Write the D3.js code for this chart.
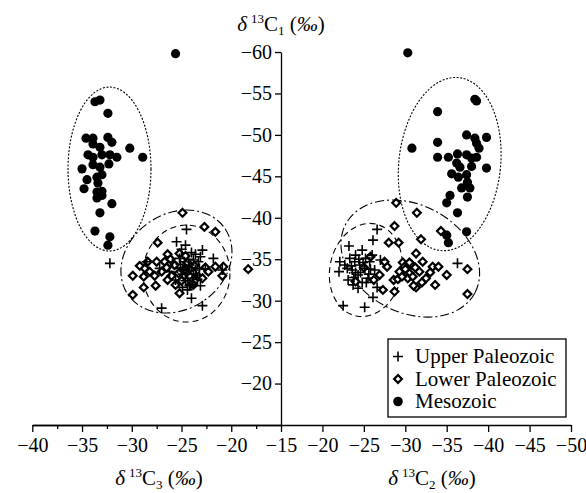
<!DOCTYPE html>
<html>
<head>
<meta charset="utf-8">
<script src="https://cdn.jsdelivr.net/npm/d3@7"></script>
<style>
  body { margin: 0; background: #fff; }
</style>
</head>
<body>
<div id="chart"></div>
<script>
// left half: δ13C3 (x) vs δ13C1 (y)
const upperLeft = [[-32.2,-34.5],[-24.5,-38.6],[-25.5,-37.1],[-24.6,-36.7],[-22.9,-36.1],[-23.1,-35.3],[-21.8,-35.1],
  [-28.5,-34.7],[-23.1,-31.8],[-24.0,-30.3],[-22.9,-29.4],[-27.0,-29.1],[-20.9,-33.7],[-25.2,-35.1],[-24.7,-34.7],
  [-24.2,-34.3],[-25.4,-33.9],[-23.6,-33.7],[-24.9,-33.2],[-24.4,-32.7],[-23.9,-32.2],[-25.6,-32.5],[-26.2,-33.5],
  [-27.2,-33.9],[-23.3,-34.7],[-24.4,-31.3],[-23.5,-33.0],[-22.6,-33.8],[-24.9,-31.6],[-24.0,-35.8],[-25.0,-36.2],
  [-24.3,-33.6],[-24.8,-34.0],[-23.8,-34.9],[-25.9,-34.6],[-24.1,-32.0],[-24.0,-34.0],[-23.8,-33.2],[-24.6,-32.4],
  [-23.4,-32.6],[-25.1,-34.4],[-24.3,-35.0],[-23.6,-35.6],[-24.9,-33.8],[-24.2,-31.8],[-23.2,-33.9]]
const lowerLeft = [[-24.9,-40.6],[-22.7,-38.9],[-21.6,-38.3],[-27.4,-37.0],[-26.4,-35.6],[-25.2,-35.7],[-28.4,-34.7],
  [-27.5,-34.7],[-26.7,-34.7],[-21.6,-34.1],[-20.8,-34.1],[-28.7,-33.9],[-29.9,-33.0],[-28.8,-32.9],[-20.9,-33.0],
  [-28.8,-31.6],[-27.6,-31.8],[-29.9,-30.7],[-23.8,-31.9],[-25.2,-30.9],[-26.4,-32.5],[-22.6,-34.0],[-23.3,-32.9],
  [-18.3,-33.8],[-25.7,-34.3],[-27.0,-33.5],[-26.0,-33.0],[-28.2,-33.5],[-24.7,-33.7],[-22.3,-33.5],[-25.6,-31.9],
  [-27.7,-33.0],[-29.2,-34.2],[-24.2,-33.0],[-23.7,-34.2],[-25.0,-32.4],[-24.4,-34.6],[-25.3,-33.3],[-23.9,-32.0],
  [-26.5,-34.0],[-22.9,-32.7],[-24.6,-35.4],[-26.1,-35.0]]
const mesoLeft = [[-33.7,-54.0],[-33.2,-54.2],[-32.4,-52.6],[-34.6,-49.6],[-33.9,-49.6],[-32.4,-49.7],[-32.0,-49.1],
  [-33.9,-48.9],[-33.2,-48.5],[-30.2,-48.4],[-28.9,-47.3],[-34.4,-47.6],[-33.9,-47.3],[-33.0,-47.6],[-32.2,-47.6],
  [-31.5,-47.3],[-33.9,-46.4],[-32.3,-46.5],[-35.0,-45.9],[-33.2,-46.1],[-33.5,-44.9],[-33.0,-45.2],[-34.5,-44.6],
  [-33.4,-44.2],[-34.8,-43.5],[-33.5,-43.1],[-33.0,-43.2],[-33.5,-42.4],[-33.0,-42.7],[-32.0,-41.7],[-33.2,-40.6],
  [-33.7,-38.4],[-32.2,-37.7],[-32.4,-36.7],[-25.6,-59.8]]

// right half: δ13C2 (x) vs δ13C1 (y)
const upperRight = [[-26.6,-38.6],[-26.1,-37.3],[-23.2,-36.6],[-24.8,-36.1],[-22.1,-34.7],[-22.0,-33.5],[-26.0,-35.5],
  [-27.0,-34.9],[-26.6,-31.6],[-26.1,-30.4],[-24.3,-31.5],[-22.5,-29.4],[-25.1,-29.2],[-36.3,-34.5],[-23.3,-35.1],
  [-23.9,-34.7],[-24.5,-34.3],[-25.1,-33.9],[-23.6,-33.7],[-24.3,-33.1],[-25.5,-32.7],[-23.1,-32.5],[-24.8,-32.2],
  [-25.7,-34.7],[-26.3,-33.7],[-22.7,-34.3],[-24.0,-35.5],[-25.2,-35.1],[-23.7,-31.9],[-24.6,-33.4],[-25.6,-33.2],
  [-24.0,-33.4],[-23.5,-34.2],[-24.9,-34.6],[-25.3,-32.2],[-23.8,-32.8],[-24.4,-35.0],[-25.8,-33.8],[-23.0,-33.9]]
const lowerRight = [[-28.9,-41.8],[-31.4,-40.6],[-28.7,-39.0],[-34.3,-38.4],[-31.9,-37.4],[-28.0,-37.0],[-29.2,-37.0],
  [-31.3,-35.7],[-29.7,-34.6],[-32.1,-34.7],[-33.3,-34.1],[-34.0,-34.1],[-35.0,-33.1],[-37.5,-33.8],[-37.5,-30.8],
  [-31.3,-31.6],[-33.6,-31.9],[-28.7,-31.1],[-28.6,-32.5],[-29.1,-32.6],[-30.5,-33.3],[-27.8,-34.1],[-29.9,-34.1],
  [-30.8,-34.3],[-30.3,-32.7],[-31.7,-33.5],[-32.5,-32.7],[-29.3,-33.5],[-26.9,-33.1],[-27.5,-34.7],[-27.3,-31.3],
  [-25.0,-34.0],[-26.2,-32.5],[-24.0,-32.3],[-25.8,-35.3],[-30.0,-33.8],[-30.9,-32.9],[-29.6,-32.9],[-31.2,-34.0],
  [-30.5,-34.6],[-32.0,-32.2],[-33.0,-33.4],[-31.0,-31.8]]
const mesoRight = [[-38.4,-54.3],[-38.6,-54.1],[-33.9,-52.8],[-37.4,-50.0],[-38.4,-49.6],[-39.8,-49.7],[-38.6,-49.0],
  [-38.9,-48.4],[-30.8,-48.4],[-33.9,-49.1],[-33.9,-47.3],[-35.2,-47.3],[-36.3,-47.7],[-37.4,-47.6],[-38.0,-47.2],
  [-38.6,-47.3],[-36.2,-46.6],[-38.0,-46.2],[-39.8,-46.0],[-36.6,-46.1],[-35.6,-45.3],[-36.4,-44.9],[-37.4,-45.2],
  [-37.5,-44.3],[-36.8,-43.6],[-37.8,-43.6],[-35.4,-42.7],[-37.5,-42.5],[-35.0,-41.8],[-36.3,-40.6],[-37.4,-38.3],
  [-35.0,-37.9],[-35.2,-37.0],[-30.3,-59.9]]

// group ellipses: [group, cx, cy, rx, ry, angle] in data units
const ellipsesLeft = [['meso',-32.24,-45.88,4.17,9.89,0],['lower',-25.51,-34.72,5.9,5.77,-34],['upper',-24.5,-33.27,4.37,5.85,0]]
const ellipsesRight = [['meso',-35.36,-46.48,6.14,10.49,6],['lower',-30.6,-35.08,8.83,6.48,28],['upper',-25.24,-33.7,4.34,5.67,12]]

const ticksLeft = [-40,-35,-30,-25,-20,-15]
const minorLeft = [-37.5,-32.5,-27.5,-22.5,-17.5]
const ticksRight = [-20,-25,-30,-35,-40,-45,-50]
const ticksY = [-60,-55,-50,-45,-40,-35,-30,-25,-20]
const legendItems = [['upper','Upper Paleozoic'],['lower','Lower Paleozoic'],['meso','Mesozoic']]

const width = 586, height = 493
const serif = 'Liberation Serif'
const dash = { meso: '2,1.6', lower: '9,3,2,3', upper: '6,4' }

const svg = d3.select('#chart').append('svg')
  .attr('width', width)
  .attr('height', height)
  .attr('font-family', serif)

const xL = d3.scaleLinear().domain([-40, -15]).range([32.3, 281])
const xR = d3.scaleLinear().domain([-15, -50]).range([281, 571])
const y = d3.scaleLinear().domain([-15, -60]).range([425, 52])

// ellipses
function drawEllipses(list, xs) {
  list.forEach(e => {
    const cx = xs(e[1]), cy = y(e[2])
    svg.append('ellipse')
      .attr('cx', cx).attr('cy', cy)
      .attr('rx', Math.abs(xs(e[1] + e[3]) - cx))
      .attr('ry', Math.abs(y(e[2] + e[4]) - cy))
      .attr('transform', `rotate(${e[5]},${cx},${cy})`)
      .attr('fill', 'none')
      .attr('stroke', '#000')
      .attr('stroke-width', 1.1)
      .attr('stroke-dasharray', dash[e[0]])
  })
}
drawEllipses(ellipsesLeft, xL)
drawEllipses(ellipsesRight, xR)

// markers
const crossPath = 'M-5,0H5M0,-5V5'
const diamondPath = 'M0,-3.9L3.9,0L0,3.9L-3.9,0Z'

function drawPoints(data, xs, kind) {
  const g = svg.append('g')
  if (kind === 'meso') {
    g.selectAll('circle').data(data).enter().append('circle')
      .attr('cx', d => xs(d[0])).attr('cy', d => y(d[1]))
      .attr('r', 4.6).attr('fill', '#000')
  } else {
    g.selectAll('path').data(data).enter().append('path')
      .attr('transform', d => `translate(${xs(d[0])},${y(d[1])})`)
      .attr('d', kind === 'upper' ? crossPath : diamondPath)
      .attr('fill', kind === 'upper' ? 'none' : '#fff')
      .attr('stroke', '#000')
      .attr('stroke-width', kind === 'upper' ? 1.6 : 2.2)
  }
}
drawPoints(lowerLeft, xL, 'lower')
drawPoints(upperLeft, xL, 'upper')
drawPoints(mesoLeft, xL, 'meso')
drawPoints(lowerRight, xR, 'lower')
drawPoints(upperRight, xR, 'upper')
drawPoints(mesoRight, xR, 'meso')

// axes
function styleAxis(g) {
  g.attr('font-family', serif).attr('font-size', 20)
  g.selectAll('text').attr('font-family', serif)
  g.selectAll('path, line').attr('stroke', '#000').attr('stroke-width', 1.3)
}

svg.append('g')
  .attr('transform', `translate(0,${y(-15)})`)
  .call(d3.axisBottom(xL).tickValues(minorLeft).tickSize(4).tickFormat('').tickSizeOuter(0))
  .call(styleAxis)
svg.append('g')
  .attr('transform', `translate(0,${y(-15)})`)
  .call(d3.axisBottom(xL).tickValues(ticksLeft).tickSize(7).tickPadding(6).tickSizeOuter(0))
  .call(styleAxis)
svg.append('g')
  .attr('transform', `translate(0,${y(-15)})`)
  .call(d3.axisBottom(xR).tickValues(ticksRight).tickSize(7).tickPadding(6).tickSizeOuter(0))
  .call(styleAxis)
svg.append('g')
  .attr('transform', `translate(${xL(-15)},0)`)
  .call(d3.axisLeft(y).tickValues(ticksY).tickSize(6).tickPadding(3).tickSizeOuter(0))
  .call(styleAxis)

// axis titles
function deltaLabel(x, yb, sub) {
  const t = svg.append('text')
    .attr('x', x).attr('y', yb)
    .attr('text-anchor', 'middle')
    .attr('font-family', serif)
    .attr('font-size', 21)
  t.append('tspan').attr('font-style', 'italic').text('δ')
  t.append('tspan').attr('font-size', 13).attr('dx', 4).attr('dy', -8).text('13')
  t.append('tspan').attr('dy', 8).text('C')
  t.append('tspan').attr('font-size', 13).attr('dy', 4).text(sub)
  t.append('tspan').attr('dy', -4).text(' (')
  t.append('tspan').attr('font-style', 'italic').text('‰')
  t.append('tspan').text(')')
}
deltaLabel(281, 31, '1')
deltaLabel(159, 485, '3')
deltaLabel(432, 485, '2')

// legend
const legend = svg.append('g').attr('transform', 'translate(388,339)')
legend.append('rect')
  .attr('width', 178).attr('height', 78)
  .attr('fill', '#fff').attr('stroke', '#000').attr('stroke-width', 1.3)
legendItems.forEach((d, i) => {
  const cy = 17.5 + i * 22.5
  if (d[0] === 'meso') {
    legend.append('circle').attr('cx', 10).attr('cy', cy).attr('r', 4.8).attr('fill', '#000')
  } else {
    legend.append('path')
      .attr('transform', `translate(10,${cy})`)
      .attr('d', d[0] === 'upper' ? crossPath : diamondPath)
      .attr('fill', d[0] === 'upper' ? 'none' : '#fff')
      .attr('stroke', '#000')
      .attr('stroke-width', d[0] === 'upper' ? 1.6 : 2.2)
  }
  legend.append('text')
    .attr('x', 27).attr('y', cy + 6.5)
    .attr('font-family', serif)
    .attr('font-size', 21)
    .text(d[1])
})
</script>
</body>
</html>
